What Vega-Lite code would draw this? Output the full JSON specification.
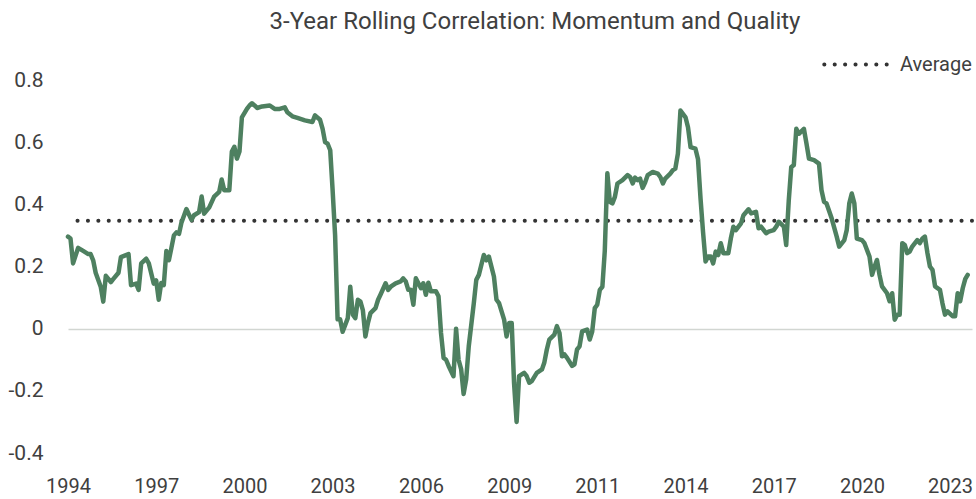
{
  "$schema": "https://vega.github.io/schema/vega-lite/v6.json",
  "width": 904,
  "height": 373,
  "autosize": "none",
  "padding": {"left": 68, "top": 80, "right": 4, "bottom": 46},
  "background": "white",
  "title": {"text": "3-Year Rolling Correlation: Momentum and Quality", "anchor": "middle", "frame": "group", "dx": 15, "offset": -3, "fontSize": 24, "font": "Roboto", "fontWeight": "normal", "color": "#404040"},
  "config": {"view": {"stroke": null}, "font": "Roboto"},
  "layer": [
    {
      "data": {"values": [{"series": "Average", "avg": 0.347}]},
      "mark": {"type": "rule", "strokeDash": [0.1, 10.3], "strokeCap": "round", "strokeWidth": 4},
      "encoding": {
        "y": {"field": "avg", "type": "quantitative", "scale": {"domain": [-0.4, 0.8], "nice": false, "zero": false}},
        "color": {"field": "series", "type": "nominal", "scale": {"range": ["#333333"]},
          "legend": {"title": null, "orient": "none", "legendX": 754, "legendY": -49, "padding": 0, "symbolType": "stroke", "symbolSize": 3900, "symbolStrokeWidth": 4, "symbolDash": [0.1, 10.3], "labelFontSize": 20, "labelColor": "#404040", "labelOffset": 11, "labelFont": "Roboto",
            "encode": {"symbols": {"update": {"strokeCap": {"value": "round"}}}}}}
      }
    },
    {
      "data": {"values": [
        {"date": "1994-06-01", "corr": 0.296},
        {"date": "1994-07-01", "corr": 0.29},
        {"date": "1994-08-01", "corr": 0.21},
        {"date": "1994-10-01", "corr": 0.26},
        {"date": "1994-12-01", "corr": 0.25},
        {"date": "1995-02-01", "corr": 0.24},
        {"date": "1995-03-01", "corr": 0.24},
        {"date": "1995-04-01", "corr": 0.22},
        {"date": "1995-05-01", "corr": 0.18},
        {"date": "1995-07-01", "corr": 0.135},
        {"date": "1995-08-01", "corr": 0.087},
        {"date": "1995-09-01", "corr": 0.17},
        {"date": "1995-11-01", "corr": 0.15},
        {"date": "1995-12-01", "corr": 0.16},
        {"date": "1996-02-01", "corr": 0.18},
        {"date": "1996-03-01", "corr": 0.23},
        {"date": "1996-06-01", "corr": 0.24},
        {"date": "1996-07-01", "corr": 0.14},
        {"date": "1996-09-01", "corr": 0.145},
        {"date": "1996-10-01", "corr": 0.125},
        {"date": "1996-11-01", "corr": 0.21},
        {"date": "1997-01-01", "corr": 0.225},
        {"date": "1997-02-01", "corr": 0.21},
        {"date": "1997-04-01", "corr": 0.145},
        {"date": "1997-05-01", "corr": 0.155},
        {"date": "1997-06-01", "corr": 0.093},
        {"date": "1997-07-01", "corr": 0.147},
        {"date": "1997-08-01", "corr": 0.14},
        {"date": "1997-09-01", "corr": 0.25},
        {"date": "1997-10-01", "corr": 0.22},
        {"date": "1997-11-01", "corr": 0.26},
        {"date": "1997-12-01", "corr": 0.30},
        {"date": "1998-01-01", "corr": 0.31},
        {"date": "1998-02-01", "corr": 0.305},
        {"date": "1998-03-01", "corr": 0.34},
        {"date": "1998-05-01", "corr": 0.385},
        {"date": "1998-07-01", "corr": 0.35},
        {"date": "1998-08-01", "corr": 0.365},
        {"date": "1998-10-01", "corr": 0.375},
        {"date": "1998-11-01", "corr": 0.425},
        {"date": "1998-12-01", "corr": 0.37},
        {"date": "1999-02-01", "corr": 0.39},
        {"date": "1999-04-01", "corr": 0.425},
        {"date": "1999-06-01", "corr": 0.44},
        {"date": "1999-07-01", "corr": 0.48},
        {"date": "1999-08-01", "corr": 0.445},
        {"date": "1999-10-01", "corr": 0.445},
        {"date": "1999-11-01", "corr": 0.57},
        {"date": "1999-12-01", "corr": 0.585},
        {"date": "2000-01-01", "corr": 0.547},
        {"date": "2000-02-01", "corr": 0.57},
        {"date": "2000-03-01", "corr": 0.68},
        {"date": "2000-05-01", "corr": 0.707},
        {"date": "2000-06-01", "corr": 0.718},
        {"date": "2000-07-01", "corr": 0.725},
        {"date": "2000-08-01", "corr": 0.718},
        {"date": "2000-09-01", "corr": 0.71},
        {"date": "2000-11-01", "corr": 0.715},
        {"date": "2001-02-01", "corr": 0.718},
        {"date": "2001-04-01", "corr": 0.707},
        {"date": "2001-06-01", "corr": 0.707},
        {"date": "2001-08-01", "corr": 0.712},
        {"date": "2001-09-01", "corr": 0.696},
        {"date": "2001-11-01", "corr": 0.683},
        {"date": "2002-01-01", "corr": 0.678},
        {"date": "2002-04-01", "corr": 0.67},
        {"date": "2002-07-01", "corr": 0.665},
        {"date": "2002-08-01", "corr": 0.686},
        {"date": "2002-10-01", "corr": 0.672},
        {"date": "2002-11-01", "corr": 0.643},
        {"date": "2002-12-01", "corr": 0.60},
        {"date": "2003-01-01", "corr": 0.595},
        {"date": "2003-02-01", "corr": 0.574},
        {"date": "2003-03-01", "corr": 0.45},
        {"date": "2003-04-01", "corr": 0.30},
        {"date": "2003-05-01", "corr": 0.03},
        {"date": "2003-06-01", "corr": 0.03},
        {"date": "2003-07-01", "corr": -0.01},
        {"date": "2003-09-01", "corr": 0.034},
        {"date": "2003-10-01", "corr": 0.135},
        {"date": "2003-11-01", "corr": 0.045},
        {"date": "2003-12-01", "corr": 0.034},
        {"date": "2004-01-01", "corr": 0.093},
        {"date": "2004-02-01", "corr": 0.087},
        {"date": "2004-03-01", "corr": 0.06},
        {"date": "2004-04-01", "corr": -0.025},
        {"date": "2004-05-01", "corr": 0.018},
        {"date": "2004-06-01", "corr": 0.05},
        {"date": "2004-08-01", "corr": 0.066},
        {"date": "2004-09-01", "corr": 0.093},
        {"date": "2004-10-01", "corr": 0.11},
        {"date": "2004-12-01", "corr": 0.146},
        {"date": "2005-01-01", "corr": 0.125},
        {"date": "2005-02-01", "corr": 0.135},
        {"date": "2005-04-01", "corr": 0.146},
        {"date": "2005-06-01", "corr": 0.152},
        {"date": "2005-07-01", "corr": 0.162},
        {"date": "2005-08-01", "corr": 0.152},
        {"date": "2005-09-01", "corr": 0.125},
        {"date": "2005-10-01", "corr": 0.125},
        {"date": "2005-11-01", "corr": 0.077},
        {"date": "2005-12-01", "corr": 0.162},
        {"date": "2006-02-01", "corr": 0.13},
        {"date": "2006-03-01", "corr": 0.146},
        {"date": "2006-04-01", "corr": 0.109},
        {"date": "2006-05-01", "corr": 0.148},
        {"date": "2006-06-01", "corr": 0.12},
        {"date": "2006-08-01", "corr": 0.12},
        {"date": "2006-09-01", "corr": 0.104},
        {"date": "2006-10-01", "corr": -0.014},
        {"date": "2006-11-01", "corr": -0.094},
        {"date": "2006-12-01", "corr": -0.1},
        {"date": "2007-01-01", "corr": -0.12},
        {"date": "2007-03-01", "corr": -0.153},
        {"date": "2007-04-01", "corr": 0.0},
        {"date": "2007-05-01", "corr": -0.1},
        {"date": "2007-06-01", "corr": -0.13},
        {"date": "2007-07-01", "corr": -0.21},
        {"date": "2007-08-01", "corr": -0.163},
        {"date": "2007-09-01", "corr": -0.057},
        {"date": "2007-11-01", "corr": 0.082},
        {"date": "2007-12-01", "corr": 0.157},
        {"date": "2008-01-01", "corr": 0.173},
        {"date": "2008-03-01", "corr": 0.237},
        {"date": "2008-04-01", "corr": 0.22},
        {"date": "2008-05-01", "corr": 0.232},
        {"date": "2008-07-01", "corr": 0.168},
        {"date": "2008-08-01", "corr": 0.093},
        {"date": "2008-09-01", "corr": 0.082},
        {"date": "2008-11-01", "corr": 0.029},
        {"date": "2008-12-01", "corr": -0.025},
        {"date": "2009-01-01", "corr": 0.018},
        {"date": "2009-02-01", "corr": 0.018},
        {"date": "2009-03-01", "corr": -0.174},
        {"date": "2009-04-01", "corr": -0.30},
        {"date": "2009-05-01", "corr": -0.153},
        {"date": "2009-07-01", "corr": -0.142},
        {"date": "2009-08-01", "corr": -0.153},
        {"date": "2009-09-01", "corr": -0.174},
        {"date": "2009-10-01", "corr": -0.169},
        {"date": "2009-12-01", "corr": -0.142},
        {"date": "2010-02-01", "corr": -0.131},
        {"date": "2010-03-01", "corr": -0.11},
        {"date": "2010-04-01", "corr": -0.067},
        {"date": "2010-05-01", "corr": -0.035},
        {"date": "2010-07-01", "corr": -0.019},
        {"date": "2010-08-01", "corr": 0.008},
        {"date": "2010-09-01", "corr": -0.014},
        {"date": "2010-10-01", "corr": -0.089},
        {"date": "2010-11-01", "corr": -0.083},
        {"date": "2010-12-01", "corr": -0.094},
        {"date": "2011-02-01", "corr": -0.12},
        {"date": "2011-03-01", "corr": -0.115},
        {"date": "2011-04-01", "corr": -0.067},
        {"date": "2011-05-01", "corr": -0.057},
        {"date": "2011-06-01", "corr": -0.009},
        {"date": "2011-08-01", "corr": -0.003},
        {"date": "2011-09-01", "corr": -0.035},
        {"date": "2011-10-01", "corr": -0.009},
        {"date": "2011-11-01", "corr": 0.066},
        {"date": "2011-12-01", "corr": 0.077},
        {"date": "2012-01-01", "corr": 0.125},
        {"date": "2012-02-01", "corr": 0.135},
        {"date": "2012-03-01", "corr": 0.25},
        {"date": "2012-04-01", "corr": 0.50},
        {"date": "2012-05-01", "corr": 0.408},
        {"date": "2012-06-01", "corr": 0.403},
        {"date": "2012-07-01", "corr": 0.424},
        {"date": "2012-08-01", "corr": 0.467},
        {"date": "2012-10-01", "corr": 0.478},
        {"date": "2012-12-01", "corr": 0.494},
        {"date": "2013-01-01", "corr": 0.488},
        {"date": "2013-02-01", "corr": 0.467},
        {"date": "2013-03-01", "corr": 0.486},
        {"date": "2013-04-01", "corr": 0.478},
        {"date": "2013-05-01", "corr": 0.483},
        {"date": "2013-06-01", "corr": 0.453},
        {"date": "2013-07-01", "corr": 0.47},
        {"date": "2013-08-01", "corr": 0.494},
        {"date": "2013-10-01", "corr": 0.504},
        {"date": "2013-12-01", "corr": 0.499},
        {"date": "2014-01-01", "corr": 0.488},
        {"date": "2014-02-01", "corr": 0.467},
        {"date": "2014-03-01", "corr": 0.483},
        {"date": "2014-05-01", "corr": 0.499},
        {"date": "2014-06-01", "corr": 0.51},
        {"date": "2014-07-01", "corr": 0.515},
        {"date": "2014-08-01", "corr": 0.563},
        {"date": "2014-09-01", "corr": 0.702},
        {"date": "2014-11-01", "corr": 0.68},
        {"date": "2014-12-01", "corr": 0.648},
        {"date": "2015-01-01", "corr": 0.584},
        {"date": "2015-03-01", "corr": 0.579},
        {"date": "2015-04-01", "corr": 0.545},
        {"date": "2015-05-01", "corr": 0.42},
        {"date": "2015-06-01", "corr": 0.31},
        {"date": "2015-07-01", "corr": 0.216},
        {"date": "2015-08-01", "corr": 0.232},
        {"date": "2015-09-01", "corr": 0.232},
        {"date": "2015-10-01", "corr": 0.21},
        {"date": "2015-11-01", "corr": 0.248},
        {"date": "2015-12-01", "corr": 0.237},
        {"date": "2016-01-01", "corr": 0.275},
        {"date": "2016-02-01", "corr": 0.243},
        {"date": "2016-04-01", "corr": 0.243},
        {"date": "2016-05-01", "corr": 0.29},
        {"date": "2016-06-01", "corr": 0.328},
        {"date": "2016-07-01", "corr": 0.317},
        {"date": "2016-09-01", "corr": 0.339},
        {"date": "2016-10-01", "corr": 0.365},
        {"date": "2016-12-01", "corr": 0.384},
        {"date": "2017-01-01", "corr": 0.371},
        {"date": "2017-03-01", "corr": 0.376},
        {"date": "2017-04-01", "corr": 0.323},
        {"date": "2017-05-01", "corr": 0.328},
        {"date": "2017-07-01", "corr": 0.307},
        {"date": "2017-08-01", "corr": 0.312},
        {"date": "2017-10-01", "corr": 0.317},
        {"date": "2017-11-01", "corr": 0.328},
        {"date": "2017-12-01", "corr": 0.344},
        {"date": "2018-02-01", "corr": 0.328},
        {"date": "2018-03-01", "corr": 0.269},
        {"date": "2018-04-01", "corr": 0.413},
        {"date": "2018-05-01", "corr": 0.52},
        {"date": "2018-06-01", "corr": 0.526},
        {"date": "2018-07-01", "corr": 0.643},
        {"date": "2018-08-01", "corr": 0.627},
        {"date": "2018-10-01", "corr": 0.643},
        {"date": "2018-11-01", "corr": 0.595},
        {"date": "2018-12-01", "corr": 0.547},
        {"date": "2019-02-01", "corr": 0.542},
        {"date": "2019-04-01", "corr": 0.531},
        {"date": "2019-05-01", "corr": 0.446},
        {"date": "2019-06-01", "corr": 0.408},
        {"date": "2019-07-01", "corr": 0.403},
        {"date": "2019-09-01", "corr": 0.355},
        {"date": "2019-11-01", "corr": 0.296},
        {"date": "2019-12-01", "corr": 0.264},
        {"date": "2020-02-01", "corr": 0.285},
        {"date": "2020-03-01", "corr": 0.317},
        {"date": "2020-04-01", "corr": 0.403},
        {"date": "2020-05-01", "corr": 0.435},
        {"date": "2020-06-01", "corr": 0.403},
        {"date": "2020-07-01", "corr": 0.29},
        {"date": "2020-09-01", "corr": 0.285},
        {"date": "2020-10-01", "corr": 0.275},
        {"date": "2020-12-01", "corr": 0.232},
        {"date": "2021-01-01", "corr": 0.173},
        {"date": "2021-02-01", "corr": 0.2},
        {"date": "2021-03-01", "corr": 0.221},
        {"date": "2021-04-01", "corr": 0.173},
        {"date": "2021-05-01", "corr": 0.136},
        {"date": "2021-07-01", "corr": 0.114},
        {"date": "2021-08-01", "corr": 0.088},
        {"date": "2021-09-01", "corr": 0.114},
        {"date": "2021-10-01", "corr": 0.029},
        {"date": "2021-11-01", "corr": 0.045},
        {"date": "2021-12-01", "corr": 0.045},
        {"date": "2022-01-01", "corr": 0.275},
        {"date": "2022-02-01", "corr": 0.269},
        {"date": "2022-03-01", "corr": 0.243},
        {"date": "2022-04-01", "corr": 0.248},
        {"date": "2022-05-01", "corr": 0.264},
        {"date": "2022-07-01", "corr": 0.285},
        {"date": "2022-08-01", "corr": 0.275},
        {"date": "2022-09-01", "corr": 0.29},
        {"date": "2022-10-01", "corr": 0.296},
        {"date": "2022-11-01", "corr": 0.243},
        {"date": "2022-12-01", "corr": 0.2},
        {"date": "2023-01-01", "corr": 0.189},
        {"date": "2023-02-01", "corr": 0.136},
        {"date": "2023-04-01", "corr": 0.125},
        {"date": "2023-05-01", "corr": 0.082},
        {"date": "2023-06-01", "corr": 0.045},
        {"date": "2023-07-01", "corr": 0.056},
        {"date": "2023-09-01", "corr": 0.04},
        {"date": "2023-10-01", "corr": 0.04},
        {"date": "2023-11-01", "corr": 0.114},
        {"date": "2023-12-01", "corr": 0.088},
        {"date": "2024-01-01", "corr": 0.13},
        {"date": "2024-02-01", "corr": 0.16},
        {"date": "2024-03-01", "corr": 0.173}
      ]},
      "mark": {"type": "line", "color": "#4e8060", "strokeWidth": 4.5, "strokeJoin": "round", "strokeCap": "round"},
      "encoding": {
        "x": {"field": "date", "type": "temporal",
          "scale": {"type": "utc", "domain": [{"year": 1994, "month": 6, "date": 1, "utc": true}, {"year": 2024, "month": 4, "date": 22, "utc": true}], "nice": false},
          "axis": {"title": null, "format": "%Y", "domain": false, "ticks": false, "grid": false, "labelFlush": false, "labelOverlap": false, "labelPadding": 23, "labelFontSize": 20, "labelColor": "#404040", "labelFont": "Roboto",
            "values": [
              {"year": 1994, "month": 6, "date": 1, "utc": true},
              {"year": 1997, "month": 5, "date": 1, "utc": true},
              {"year": 2000, "month": 4, "date": 1, "utc": true},
              {"year": 2003, "month": 3, "date": 1, "utc": true},
              {"year": 2006, "month": 2, "date": 1, "utc": true},
              {"year": 2009, "month": 1, "date": 1, "utc": true},
              {"year": 2011, "month": 12, "date": 1, "utc": true},
              {"year": 2014, "month": 11, "date": 1, "utc": true},
              {"year": 2017, "month": 10, "date": 1, "utc": true},
              {"year": 2020, "month": 9, "date": 1, "utc": true},
              {"year": 2023, "month": 8, "date": 1, "utc": true}
            ]}},
        "y": {"field": "corr", "type": "quantitative",
          "scale": {"domain": [-0.4, 0.8], "nice": false, "zero": false},
          "axis": {"title": null, "values": [-0.4, -0.2, 0, 0.2, 0.4, 0.6, 0.8], "labelExpr": "toString(round(datum.value*10)/10)", "domain": false, "ticks": false, "labelPadding": 25, "labelFontSize": 21, "labelColor": "#404040", "labelFont": "Roboto",
            "grid": true, "gridColor": {"condition": {"test": "datum.value === 0", "value": "#d2d6d2"}, "value": "transparent"}, "gridWidth": 1.5}}
      }
    }
  ]
}
